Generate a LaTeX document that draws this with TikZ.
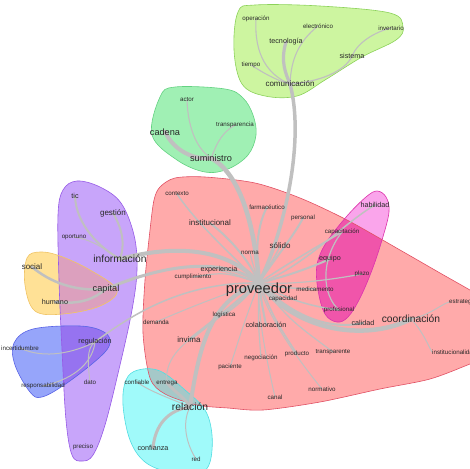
\documentclass[tikz,border=0pt]{standalone}
\usepackage{fontspec}
\setmainfont{Liberation Sans}

\definecolor{txt}{RGB}{40,40,40}
\definecolor{edge}{RGB}{192,192,192}
\definecolor{comfill}{RGB}{205,245,160}
\definecolor{comline}{RGB}{140,210,90}
\definecolor{cadfill}{RGB}{160,240,180}
\definecolor{cadline}{RGB}{100,210,130}
\definecolor{redfill}{RGB}{255,170,170}
\definecolor{redline}{RGB}{225,80,100}
\definecolor{magfill}{RGB}{250,165,235}
\definecolor{magover}{RGB}{240,85,170}
\definecolor{magline}{RGB}{220,50,170}
\definecolor{purfill}{RGB}{200,165,250}
\definecolor{purline}{RGB}{150,90,230}
\definecolor{orafill}{RGB}{255,225,150}
\definecolor{oraover}{RGB}{220,160,190}
\definecolor{oraline}{RGB}{240,195,100}
\definecolor{blufill}{RGB}{150,165,250}
\definecolor{bluover}{RGB}{150,115,240}
\definecolor{bluline}{RGB}{90,100,230}
\definecolor{cyafill}{RGB}{160,250,250}
\definecolor{cyaover}{RGB}{165,200,200}
\definecolor{cyaline}{RGB}{80,220,225}

% cluster outlines
\newcommand\shpCom{plot[smooth cycle,tension=0.6] coordinates{(238,12)(255,5)(320,6)(390,13)(403,27)(396,40)(362,57)(325,80)(297,96)(265,96)(242,84)(234,50)}}
\newcommand\shpCad{plot[smooth cycle,tension=0.6] coordinates{(160,97)(175,87)(225,89)(243,98)(253,115)(256,135)(248,155)(228,169)(205,172)(177,160)(152,135)}}
\newcommand\shpRed{plot[smooth cycle,tension=0.5] coordinates{(160,187)(175,178)(205,177)(255,183)(300,198)(347,220)(400,250)(440,273)(475,293)(505,312)(505,350)(470,364)(430,379)(380,389)(320,402)(263,410)(228,408)(197,405)(165,394)(150,378)(143,333)(145,280)(150,230)(154,200)}}
\newcommand\shpMag{plot[smooth cycle,tension=0.6] coordinates{(377,191)(386,197)(389,212)(382,240)(372,270)(360,298)(348,317)(337,322)(325,314)(318,290)(317,265)(326,243)(347,216)(366,197)}}
\newcommand\shpCya{plot[smooth cycle,tension=0.6] coordinates{(126,380)(138,370)(160,371)(185,390)(205,410)(212,435)(210,462)(200,472)(170,472)(145,462)(130,440)(123,405)}}
\newcommand\shpPur{plot[smooth cycle,tension=0.6] coordinates{(77,181)(100,187)(121,203)(134,235)(137,270)(132,310)(120,365)(105,425)(93,455)(82,461)(72,455)(66,420)(62,350)(59,280)(58,215)(63,190)}}
\newcommand\shpOra{plot[smooth cycle,tension=0.6] coordinates{(27,258)(40,252)(60,256)(90,270)(117,290)(100,306)(63,314)(35,311)(25,285)}}
\newcommand\shpBlu{plot[smooth cycle,tension=0.6] coordinates{(14,343)(33,329)(80,326)(104,332)(110,343)(100,357)(67,383)(42,397)(30,392)(15,365)}}

\pgfdeclarelayer{blobs}
\pgfdeclarelayer{links}
\pgfsetlayers{blobs,links,main}

\begin{document}
\begin{tikzpicture}[x=1pt,y=-1pt,
  lbl/.style={text=txt,inner sep=0pt},
  f0/.style={lbl,font=\fontsize{6.2}{7}\selectfont},
  f1/.style={lbl,font=\fontsize{7.2}{8}\selectfont},
  f2/.style={lbl,font=\fontsize{8}{9}\selectfont},
  f3/.style={lbl,font=\fontsize{9.2}{10}\selectfont},
  f4/.style={lbl,font=\fontsize{10.3}{11}\selectfont},
  fhub/.style={lbl,font=\fontsize{14.7}{16}\selectfont},
  lk/.style={draw=edge,line width=#1,line cap=round},
  lk/.default=1.2,
  outline/.style={line width=0.6pt}]

\useasboundingbox (0,0) rectangle (470,468);
\clip (0,0) rectangle (470,468);

% ---------- cluster areas ----------
\begin{pgfonlayer}{blobs}
  \fill[redfill] \shpRed;
  \fill[magfill] \shpMag;
  \fill[cyafill] \shpCya;
  \fill[purfill] \shpPur;
  \fill[orafill] \shpOra;
  \fill[blufill] \shpBlu;
  \fill[comfill] \shpCom;
  \fill[cadfill] \shpCad;
  \begin{scope}
    \clip \shpRed;
    \fill[magover] \shpMag;
    \fill[cyaover] \shpCya;
  \end{scope}
  \begin{scope}
    \clip \shpPur;
    \fill[oraover] \shpOra;
    \fill[bluover] \shpBlu;
  \end{scope}
  \draw[outline,redline] \shpRed;
  \draw[outline,magline] \shpMag;
  \draw[outline,cyaline] \shpCya;
  \draw[outline,purline] \shpPur;
  \draw[outline,oraline] \shpOra;
  \draw[outline,bluline] \shpBlu;
  \draw[outline,comline] \shpCom;
  \draw[outline,cadline] \shpCad;
\end{pgfonlayer}

% ---------- terms ----------
\node[f2] (com) at (290,84) {comunicación};
\node[f0] (oper) at (256,19) {operación};
\node[f0] (elec) at (318,26) {electrónico};
\node[f0] (inve) at (391,28) {invertario};
\node[f1] (tecn) at (286,42) {tecnología};
\node[f1] (sist) at (352,56) {sistema};
\node[f0] (tiem) at (251,65) {tiempo};

\node[f0] (actor) at (187,100) {actor};
\node[f0] (trsp) at (235,125) {transparencia};
\node[f3] (cad) at (165,132) {cadena};
\node[f3] (sum) at (211,158) {suministro};

\node[f1] (tic) at (75,196) {tic};
\node[f2] (ges) at (113,213) {gestión};
\node[f0] (opor) at (74,237) {oportuno};
\node[f4] (info) at (120,259) {información};
\node[f2] (soc) at (32,267) {social};
\node[f3] (cap) at (106,289) {capital};
\node[f1] (hum) at (55,302) {humano};

\node[f1] (reg) at (95,342) {regulación};
\node[f0] (inc) at (20,348) {incertidumbre};
\node[f0] (dato) at (90,382) {dato};
\node[f0] (resp) at (43,386) {responsabilidad};
\node[f0] (prec) at (83,447) {preciso};

\node[f0] (ctx) at (177,194) {contexto};
\node[f0] (farm) at (267,207) {farmacéutico};
\node[f0] (pers) at (303,218) {personal};
\node[f2] (inst) at (210,223) {institucional};
\node[f2] (sol) at (280,246) {sólido};
\node[f0] (norm) at (250,253) {norma};
\node[f1] (exp) at (219,270) {experiencia};
\node[f0] (cump) at (193,277) {cumplimiento};
\node[fhub] (prov) at (259,290) {proveedor};
\node[f0] (capd) at (283,299) {capacidad};
\node[f0] (med) at (315,289) {medicamento};

\node[f1] (hab) at (375,205) {habilidad};
\node[f0] (capc) at (342,232) {capacitación};
\node[f1] (equ) at (330,259) {equipo};
\node[f0] (plz) at (362,274) {plazo};
\node[f0] (prof) at (339,310) {profesional};
\node[f1] (cal) at (363,323) {calidad};
\node[f4] (coord) at (411,319) {coordinación};
\node[f0,anchor=west] (estr) at (449,302) {estrategia};
\node[f0,anchor=west] (instd) at (432,352) {institucionalidad};

\node[f0] (dem) at (156,322) {demanda};
\node[f0] (log) at (224,315) {logística};
\node[f1] (colab) at (266,325) {colaboración};
\node[f2] (invi) at (189,340) {invima};
\node[f0] (neg) at (261,358) {negociación};
\node[f0] (prod) at (297,354) {producto};
\node[f0] (trpt) at (333,352) {transparente};
\node[f0] (pac) at (230,367) {paciente};
\node[f0] (conf) at (137,382) {confiable};
\node[f0] (entr) at (167,383) {entrega};
\node[f0] (norv) at (322,389) {normativo};
\node[f0] (canal) at (275,397) {canal};
\node[f4] (rel) at (190,407) {relación};
\node[f1] (cfz) at (153,448) {confianza};
\node[f0] (nred) at (196,459) {red};

% ---------- links ----------
\begin{pgfonlayer}{links}
  % comunicación
  \draw[lk=3.2] (tecn.center) .. controls (280,62) and (286,74) .. (com.center);
  \draw[lk=3.5] (com.center) .. controls (305,140) and (285,230) .. (prov.north);
  \draw[lk=1.1] (oper.center) .. controls (254,55) and (268,75) .. (com.center);
  \draw[lk=1.1] (tiem.center) .. controls (262,72) and (275,80) .. (com.center);
  \draw[lk=1.1] (elec.center) .. controls (298,42) and (291,60) .. (com.center);
  \draw[lk=1.2] (sist.center) .. controls (345,72) and (318,82) .. (com.center);
  \draw[lk=1.1] (inve.center) .. controls (375,32) and (358,42) .. (sist.center);
  % suministro
  \draw[lk=4] (cad.center) .. controls (175,152) and (195,160) .. (sum.center);
  \draw[lk=1.1] (actor.center) .. controls (188,130) and (198,150) .. (sum.center);
  \draw[lk=1.1] (trsp.center) .. controls (218,135) and (215,150) .. (sum.center);
  \draw[lk=4.5] (sum.center) .. controls (242,175) and (255,230) .. (prov.north);
  % información / capital
  \draw[lk=2] (tic.center) .. controls (76,225) and (100,248) .. (info.center);
  \draw[lk=2] (ges.center) .. controls (123,230) and (125,245) .. (info.center);
  \draw[lk=1] (opor.center) .. controls (95,240) and (108,252) .. (info.center);
  \draw[lk=4] (info.center) .. controls (180,243) and (230,250) .. (prov.north);
  \draw[lk=2.5] (soc.center) .. controls (50,282) and (75,292) .. (cap.center);
  \draw[lk=2.5] (hum.center) .. controls (82,305) and (95,298) .. (cap.center);
  \draw[lk=3] (cap.center) .. controls (170,262) and (225,258) .. (prov.north);
  % regulación
  \draw[lk=1] (inc.center) .. controls (45,360) and (75,352) .. (reg.center);
  \draw[lk=1] (resp.center) .. controls (78,378) and (93,360) .. (reg.center);
  \draw[lk=1] (dato.center) .. controls (88,365) and (86,348) .. (reg.center);
  \draw[lk=1.5] (reg.center) .. controls (140,308) and (190,282) .. (prov.north);
  % proveedor neighbourhood
  \draw[lk=1.5] (ctx.center) .. controls (200,228) and (240,262) .. (prov.north);
  \draw[lk=2] (inst.center) .. controls (232,240) and (250,262) .. (prov.north);
  \draw[lk=2] (farm.center) .. controls (254,232) and (257,262) .. (prov.north);
  \draw[lk=2] (pers.center) .. controls (294,236) and (272,262) .. (prov.north);
  \draw[lk=1.5] (sol.center) .. controls (274,260) and (264,272) .. (prov.north);
  \draw[lk=1.2] (norm.center) .. controls (253,265) .. (prov.north);
  \draw[lk=1.5] (exp.center) .. controls (235,274) .. (prov.north);
  \draw[lk=1.2] (cump.center) .. controls (225,272) .. (prov.north);
  \draw[lk=1] (dem.center) .. controls (195,305) and (235,290) .. (prov.north);
  \draw[lk=1.5] (log.center) .. controls (240,303) .. (prov.north);
  \draw[lk=2] (colab.center) .. controls (262,305) .. (prov.north);
  \draw[lk=1.2] (neg.center) .. controls (258,320) .. (prov.north);
  \draw[lk=1.5] (prod.center) .. controls (275,320) .. (prov.north);
  \draw[lk=1.2] (trpt.center) .. controls (290,320) .. (prov.north);
  \draw[lk=1] (pac.center) .. controls (245,320) .. (prov.north);
  \draw[lk=1] (canal.center) .. controls (262,340) and (258,310) .. (prov.north);
  \draw[lk=1] (norv.center) .. controls (290,350) and (265,310) .. (prov.north);
  \draw[lk=1.5] (med.center) .. controls (285,288) .. (prov.north);
  \draw[lk=1.5] (capd.center) .. controls (270,292) .. (prov.north);
  \draw[lk=1.5] (prof.center) .. controls (300,305) and (280,295) .. (prov.north);
  \draw[lk=1.2] (plz.center) .. controls (330,280) and (290,285) .. (prov.north);
  \draw[lk=2] (equ.center) .. controls (305,270) and (280,278) .. (prov.north);
  \draw[lk=1.5] (capc.center) .. controls (320,245) and (285,265) .. (prov.north);
  \draw[lk=1.5] (hab.center) .. controls (345,222) and (300,270) .. (prov.north);
  \draw[lk=1.2] (capc.center) .. controls (320,260) and (322,295) .. (prof.center);
  % coordinación
  \draw[lk=2] (cal.center) .. controls (330,330) and (295,318) .. (prov.north);
  \draw[lk=4.5] (coord.center) .. controls (370,340) and (300,335) .. (prov.north);
  \draw[lk=1] (estr.west) .. controls (440,305) and (430,315) .. (coord.center);
  \draw[lk=1] (instd.west) .. controls (428,345) and (422,330) .. (coord.center);
  % relación
  \draw[lk=4] (rel.center) .. controls (200,340) and (212,300) .. (prov.north);
  \draw[lk=3] (invi.center) .. controls (212,322) and (240,300) .. (prov.north);
  \draw[lk=3] (entr.center) .. controls (175,392) and (185,398) .. (rel.center);
  \draw[lk=1] (conf.center) .. controls (150,392) and (175,400) .. (rel.center);
  \draw[lk=3] (cfz.center) .. controls (155,425) and (168,410) .. (rel.center);
  \draw[lk=1] (nred.center) .. controls (184,440) and (183,420) .. (rel.center);
  \draw[lk=1] (invi.center) .. controls (170,355) and (165,370) .. (entr.center);
\end{pgfonlayer}
\end{tikzpicture}
\end{document}
